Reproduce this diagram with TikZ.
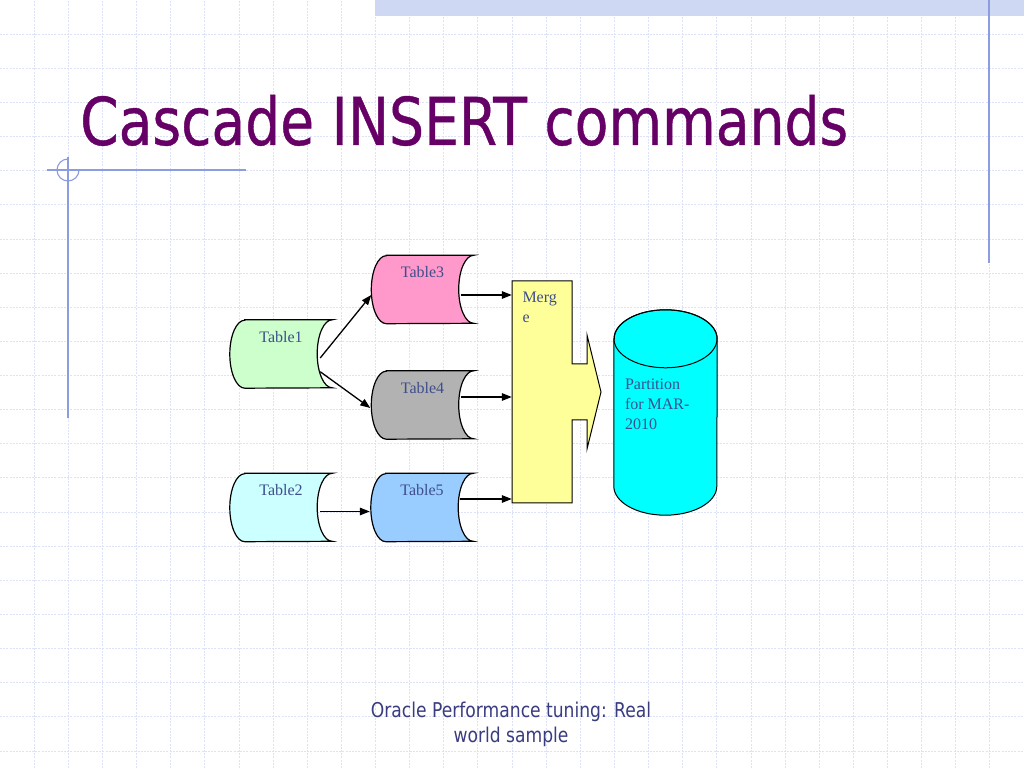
\documentclass[tikz,border=0pt]{standalone}
\usepackage{fontspec}
\setmainfont{Liberation Serif}
\newfontfamily\tahoma[FakeStretch=0.84]{DejaVu Sans}
\newfontfamily\tahomatitle[FakeStretch=0.835,FakeBold=0.6]{DejaVu Sans}
\usetikzlibrary{arrows.meta,calc}
\definecolor{gridc}{RGB}{222,226,248}
\definecolor{bandc}{RGB}{206,216,242}
\definecolor{bluel}{RGB}{140,156,224}
\definecolor{titlec}{RGB}{102,0,102}
\definecolor{footc}{RGB}{58,60,128}
\definecolor{lblc}{RGB}{62,78,140}
\definecolor{c1}{RGB}{204,255,204}
\definecolor{c2}{RGB}{204,255,255}
\definecolor{c3}{RGB}{255,153,204}
\definecolor{c4}{RGB}{178,178,178}
\definecolor{c5}{RGB}{153,204,255}
\definecolor{mergec}{RGB}{255,255,153}
\definecolor{partc}{RGB}{0,255,255}
\tikzset{
  gridline/.style={draw=gridc,line width=0.8pt,dash pattern=on 2pt off 1.2pt},
  blueline/.style={draw=bluel,line width=1.1pt},
  tblbox/.style={rectangle,draw=none,inner sep=0pt,minimum width=102pt,minimum height=68pt},
  tbl/.style={draw=black,line width=1.2pt},
  lbl/.style={text=lblc,inner sep=0pt,font=\fontsize{16}{20}\selectfont},
  arr/.style={line width=1.3pt,-{Triangle[length=10pt,width=7.5pt]}},
  titlestyle/.style={text=titlec,inner sep=0pt,font=\tahomatitle\fontsize{66}{70}\selectfont},
  footstyle/.style={text=footc,inner sep=0pt,align=center,font=\tahoma\fontsize{20.4}{24.4}\selectfont},
}
\newcommand\storedshape[5]{%
  \node[tblbox] (#1) at (#3,#4) {};
  \draw[tbl,fill=#2] ($(#1.north west)+(15,0)$) -- (#1.north east)
    arc[start angle=90,end angle=270,x radius=15pt,y radius=34pt]
    -- ($(#1.south west)+(15,0)$)
    arc[start angle=270,end angle=90,x radius=15pt,y radius=34pt] -- cycle;
  \node[lbl] (#1-l) at ($(#1.north)+(0,-17)$) {#5};
}
\begin{document}
\begin{tikzpicture}[x=1pt,y=1pt]
\fill[white] (0,0) rectangle (1024,768);
\useasboundingbox (0,0) rectangle (1024,768);
% grid
\foreach \i in {1,...,29} \draw[gridline] (\i*34.133,0) -- (\i*34.133,768);
\foreach \j in {1,...,22} \draw[gridline] (0,768-\j*34.133) -- (1024,768-\j*34.133);
% top band and decorations
\fill[bandc] (375,768) rectangle (1024,752);
\draw[blueline] (989,768) -- (989,505);
\draw[blueline] (47,598) -- (246,598);
\draw[blueline] (68,611) -- (68,350);
\draw[blueline] (68,609) arc[start angle=90,end angle=360,radius=11pt];
% title
\node[titlestyle,anchor=base west] (title) at (80,623) {Cascade INSERT commands};
% tables
\storedshape{t1}{c1}{281}{414}{Table1}
\storedshape{t3}{c3}{422.5}{478.5}{Table3}
\storedshape{t4}{c4}{422.5}{363}{Table4}
\storedshape{t2}{c2}{281}{260.5}{Table2}
\storedshape{t5}{c5}{422}{260.5}{Table5}
% merge
\node[rectangle,draw=none,inner sep=0pt,minimum width=60pt,minimum height=222pt] (mg) at (542,376) {};
\draw[tbl,fill=mergec,line width=1pt,shift={(mg.center)}] (-30,111) -- (30,111) -- (30,28) -- (45,28) -- (45,57) -- (59,0) -- (45,-57) -- (45,-28) -- (30,-28) -- (30,-111) -- (-30,-111) -- cycle;
\node[lbl,anchor=north west,align=left] (mg-l) at ($(mg.north west)+(10.5,-11)$) {Merg\\e};
% partition cylinder
\node[rectangle,draw=none,inner sep=0pt,minimum width=103pt,minimum height=205pt] (pt) at (665.5,355.5) {};
\draw[tbl,fill=partc,line width=1pt] ($(pt.north west)+(0,-29)$) -- ($(pt.south west)+(0,29)$)
  arc[start angle=180,end angle=360,x radius=51.5pt,y radius=29pt]
  -- ($(pt.north east)+(0,-29)$)
  arc[start angle=0,end angle=180,x radius=51.5pt,y radius=29pt] -- cycle;
\draw[tbl,line width=1pt] ($(pt.north)+(0,-29)$) ellipse[x radius=51.5pt,y radius=29pt];
\node[lbl,anchor=north west,align=left] (pt-l) at ($(pt.north west)+(11,-69)$) {Partition\\for MAR-\\2010};
% connectors
\draw[arr] ($(t1.east)+(-12,-4)$) -- ($(t3.west)+(0,-5.5)$);
\draw[arr] ($(t1.east)+(-12,-17.7)$) -- ($(t4.west)+(-1,-3)$);
\draw[arr] ($(t2.east)+(-12,-4)$) -- ($(t5.west)+(-1,-4)$);
\coordinate (s3) at ($(t3.east)+(-13,-5.5)$);
\coordinate (s4) at ($(t4.east)+(-13,8)$);
\coordinate (s5) at ($(t5.east)+(-13,8.5)$);
\draw[arr] (s3) -- (s3 -| mg.west);
\draw[arr] (s4) -- (s4 -| mg.west);
\draw[arr] (s5) -- (s5 -| mg.west);
% footer
\node[footstyle,anchor=north] (foot) at (511,66) {Oracle Performance tuning: Real\\world sample};
\end{tikzpicture}
\end{document}
